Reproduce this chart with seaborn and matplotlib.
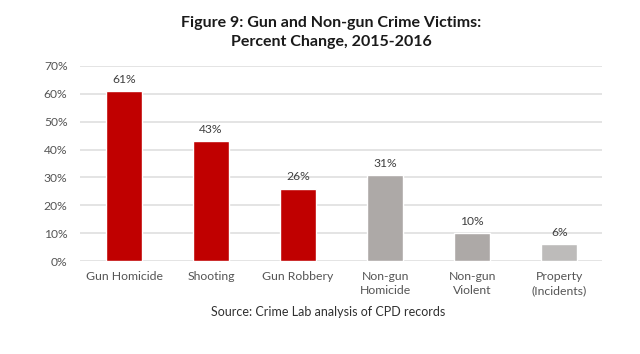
import matplotlib
matplotlib.use('Agg')
import matplotlib.pyplot as plt
import numpy as np
import pandas as pd
import seaborn as sns

categories = ['Gun Homicide', 'Shooting', 'Gun Robbery', 'Non-gun\nHomicide', 'Non-gun\nViolent', 'Property\n(Incidents)']
pct_change = [61, 43, 26, 31, 10, 6]
bar_colors = ['#C00000', '#C00000', '#C00000', '#ADA9A7', '#ADA9A7', '#BDBBBA']
yticks = [0, 10, 20, 30, 40, 50, 60, 70]

df = pd.DataFrame({'cat': categories, 'val': pct_change})

sns.set_style('white')
plt.rcParams['font.family'] = ['Lato', 'DejaVu Sans']

fig = plt.figure(figsize=(6.4, 3.54), dpi=100)
ax = fig.add_axes([80 / 640, 1 - 261 / 354, (602 - 80) / 640, (261 - 66) / 354])

sns.barplot(data=df, x='cat', y='val', hue='cat', palette=bar_colors,
            legend=False, width=0.41, saturation=1, ax=ax, zorder=3)

for i, v in enumerate(pct_change):
    ax.text(i, v + 2.2, f'{v}%', ha='center', va='bottom', fontsize=8.7, color='#404040')

ax.set_ylim(0, 70)
ax.set_xlim(-0.506, 5.49)
ax.set_yticks(yticks)
ax.set_yticklabels([f'{t}%' for t in yticks], fontsize=8.7, color='#555555')
ax.tick_params(axis='x', labelsize=8.8, colors='#555555', length=0, pad=7)
ax.tick_params(axis='y', length=0, pad=9)
for lbl in ax.get_xticklabels():
    lbl.set_linespacing(1.35)
ax.grid(axis='y', color='#E2E2E2', linewidth=1.3, zorder=0)
ax.set_axisbelow(True)
for s in ax.spines.values():
    s.set_visible(False)
ax.set_xlabel('')
ax.set_ylabel('')

fig.text(331 / 640, 1 - 23 / 354, 'Figure 9: Gun and Non-gun Crime Victims:', ha='center', va='center',
         fontsize=11.5, fontweight='bold', color='#1a1a1a')
fig.text(331 / 640, 1 - 42 / 354, 'Percent Change, 2015-2016', ha='center', va='center',
         fontsize=11.5, fontweight='bold', color='#1a1a1a')
fig.text(328 / 640, 1 - 312 / 354, 'Source: Crime Lab analysis of CPD records', ha='center', va='center',
         fontsize=9, color='#303030')

fig.savefig('out.png', dpi=100)
